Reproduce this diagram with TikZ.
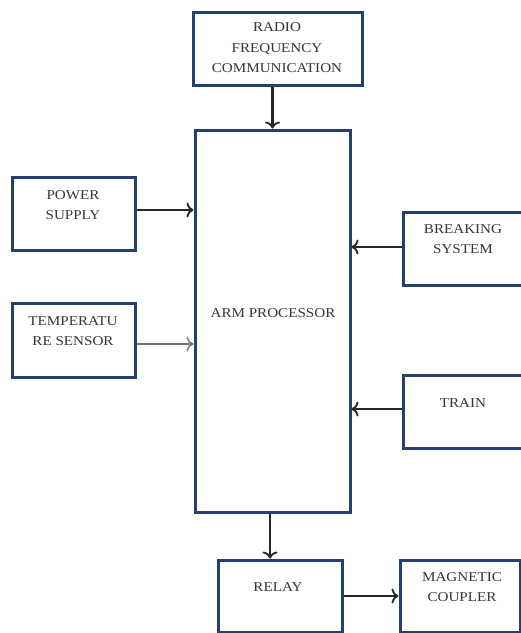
\documentclass[tikz,border=0pt]{standalone}
\usepackage{fontspec}
\setmainfont{Liberation Serif}[FakeStretch=1.12]
\usetikzlibrary{arrows.meta}
\definecolor{boxblue}{HTML}{23406F}
\definecolor{inkgray}{HTML}{363636}
\tikzset{
  blk/.style={draw=boxblue, line width=3pt, fill=white, inner sep=0pt},
  lbl/.style={align=center, text=inkgray, font=\fontsize{13.5}{20.5}\selectfont, inner sep=0pt},
  flow/.style={line width=2.2pt, draw=black!85, -{To[length=7pt,width=15pt,line width=1.8pt]}},
  softflow/.style={line width=1.6pt, draw=black!55, -{To[length=7pt,width=15pt,line width=1.4pt]}}
}
\begin{document}
\begin{tikzpicture}[x=1pt,y=-1pt]
\clip (0,0) rectangle (521,633);
\fill[white] (0,0) rectangle (521,633);
% blocks
\node[blk, minimum width=169pt, minimum height=73pt] (rf) at (277.5,48.5) {};
\node[blk, minimum width=155pt, minimum height=382pt] (arm) at (272.5,321) {};
\node[blk, minimum width=123pt, minimum height=73pt] (power) at (73.5,213.5) {};
\node[blk, minimum width=123pt, minimum height=74pt] (temp) at (73.5,340) {};
\node[blk, minimum width=127pt, minimum height=73pt] (brake) at (466.5,248.5) {};
\node[blk, minimum width=127pt, minimum height=73pt] (train) at (466.5,411.5) {};
\node[blk, minimum width=124pt, minimum height=72pt] (relay) at (280,596) {};
\node[blk, minimum width=120pt, minimum height=72pt] (coupler) at (460,596) {};
% labels
\node[lbl] (rftext) at (277,48) {RADIO\\FREQUENCY\\COMMUNICATION};
\node[lbl] (armtext) at (273,313) {ARM PROCESSOR};
\node[lbl] (powertext) at (73,205) {POWER\\SUPPLY};
\node[lbl] (temptext) at (73,331) {TEMPERATU\\RE SENSOR};
\node[lbl] (braketext) at (463,239) {BREAKING\\SYSTEM};
\node[lbl] (traintext) at (463,403) {TRAIN};
\node[lbl] (relaytext) at (278,587) {RELAY};
\node[lbl] (couplertext) at (462,587) {MAGNETIC\\COUPLER};
% connectors
\draw[flow] (arm.north |- rf.south) -- (arm.north);
\draw[flow] ([yshift=3.5pt]power.east) -- ([yshift=3.5pt]power.east -| arm.west);
\draw[softflow] ([yshift=-4pt]temp.east) -- ([yshift=-4pt]temp.east -| arm.west);
\draw[flow] ([yshift=1.5pt]brake.west) -- ([yshift=1.5pt]brake.west -| arm.east);
\draw[flow] ([yshift=2.5pt]train.west) -- ([yshift=2.5pt]train.west -| arm.east);
\draw[flow] ([xshift=-2.5pt]arm.south) -- ([xshift=-2.5pt]arm.south |- relay.north);
\draw[flow] (relay.east) -- (coupler.west);
\end{tikzpicture}
\end{document}
